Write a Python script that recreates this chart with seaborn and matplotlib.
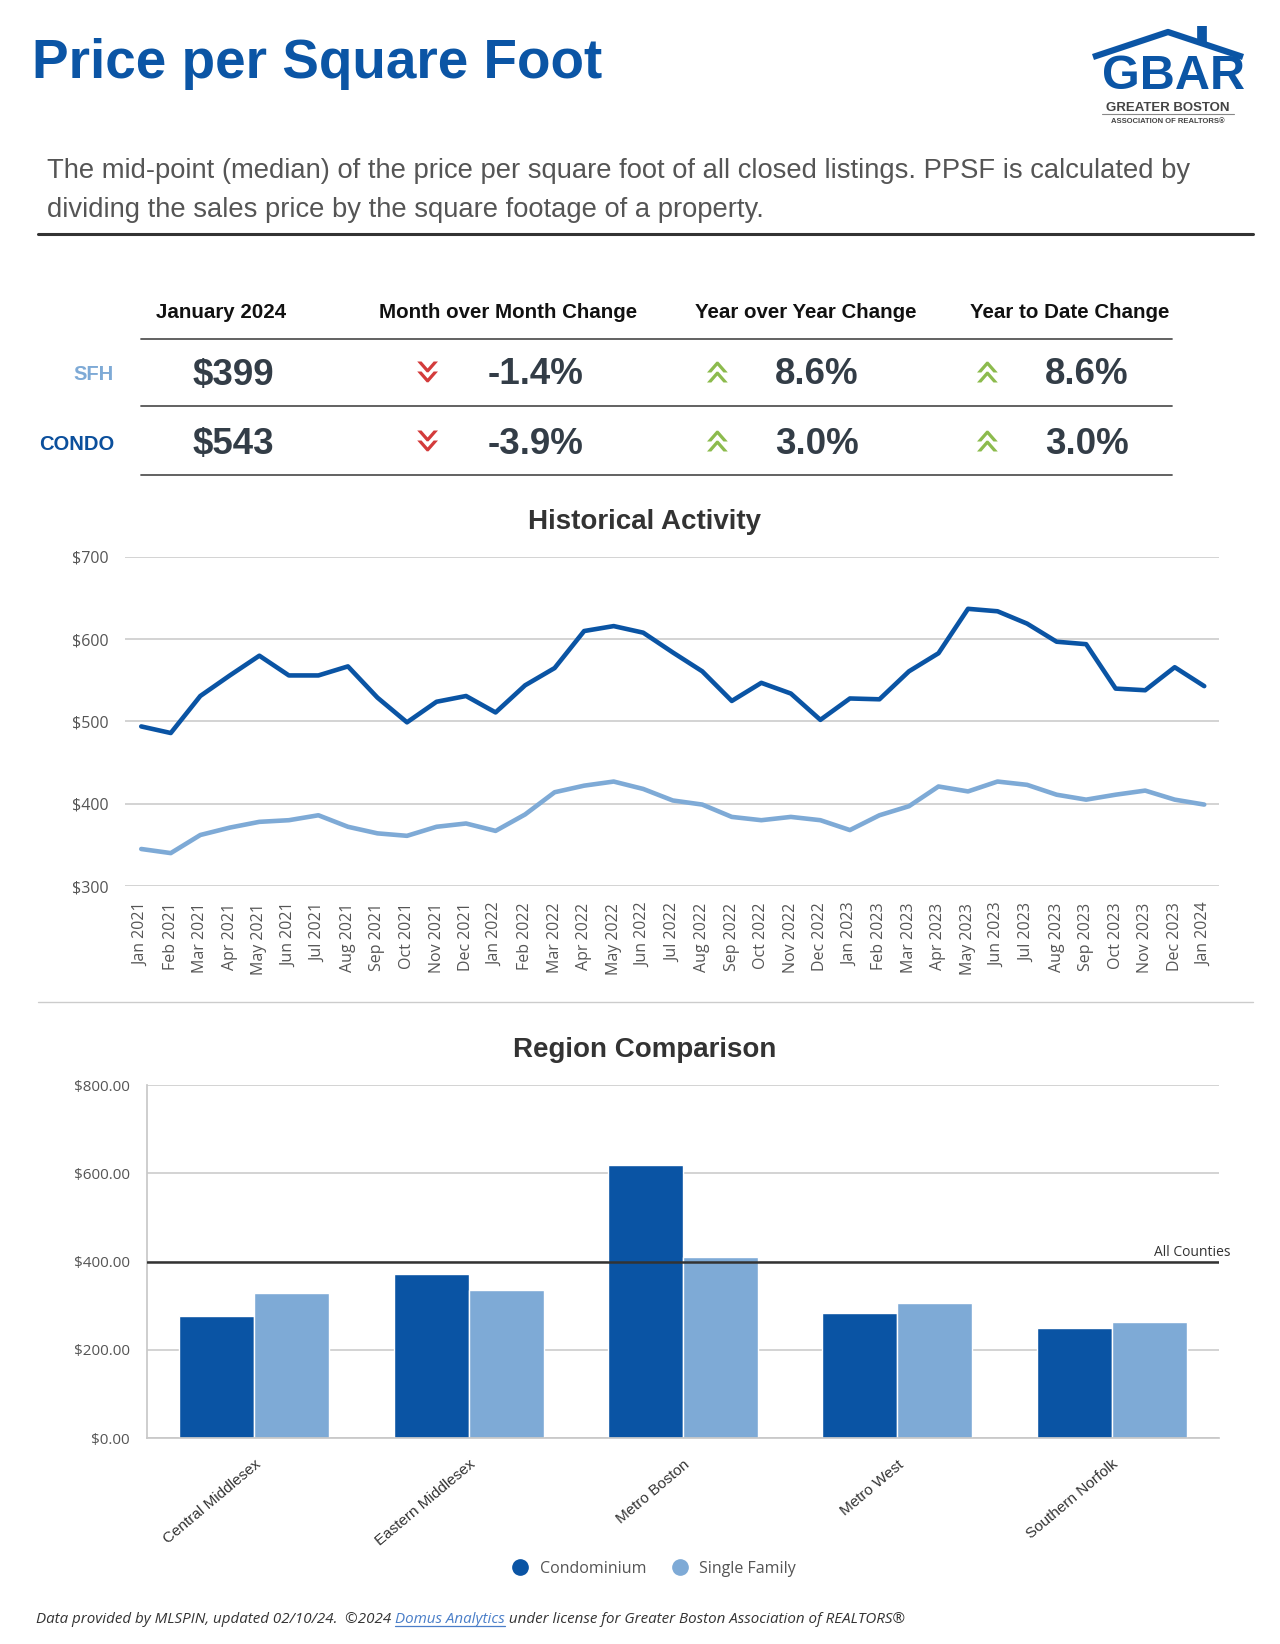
import pandas as pd
import matplotlib.pyplot as plt
import seaborn as sns
from matplotlib.lines import Line2D
from matplotlib.transforms import blended_transform_factory

# ---- data ----
months = ['Jan 2021', 'Feb 2021', 'Mar 2021', 'Apr 2021', 'May 2021', 'Jun 2021',
          'Jul 2021', 'Aug 2021', 'Sep 2021', 'Oct 2021', 'Nov 2021', 'Dec 2021',
          'Jan 2022', 'Feb 2022', 'Mar 2022', 'Apr 2022', 'May 2022', 'Jun 2022',
          'Jul 2022', 'Aug 2022', 'Sep 2022', 'Oct 2022', 'Nov 2022', 'Dec 2022',
          'Jan 2023', 'Feb 2023', 'Mar 2023', 'Apr 2023', 'May 2023', 'Jun 2023',
          'Jul 2023', 'Aug 2023', 'Sep 2023', 'Oct 2023', 'Nov 2023', 'Dec 2023',
          'Jan 2024']
condo_ppsf = [494, 486, 531, 556, 580, 556, 556, 567, 529, 499, 524, 531,
              511, 544, 565, 610, 616, 608, 584, 561, 525, 547, 534, 502,
              528, 527, 561, 583, 637, 634, 619, 597, 594, 540, 538, 566,
              543]
sfh_ppsf = [345, 340, 362, 371, 378, 380, 386, 372, 364, 361, 372, 376,
            367, 387, 414, 422, 427, 418, 404, 399, 384, 380, 384, 380,
            368, 386, 397, 421, 415, 427, 423, 411, 405, 411, 416, 405,
            399]

regions = ['Central Middlesex', 'Eastern Middlesex', 'Metro Boston', 'Metro West', 'Southern Norfolk']
region_condo = [277, 372, 619, 283, 249]
region_sfh = [328, 335, 410, 305, 263]
all_counties = 400

table_cols = ['January 2024', 'Month over Month Change', 'Year over Year Change', 'Year to Date Change']
table_rows = ['SFH', 'CONDO']
table_price = ['$399', '$543']
table_mom = ['-1.4%', '-3.9%']
table_yoy = ['8.6%', '3.0%']
table_ytd = ['8.6%', '3.0%']

CONDO = '#0a54a4'
SFH = '#7eaad6'
TITLE_BLUE = '#0b55a5'

sns.set_theme(style='white')
plt.rcParams['font.family'] = ['Liberation Sans', 'DejaVu Sans']

fig = plt.figure(figsize=(12.8, 16.44), dpi=100)

# overlay in pixel coords for the header/table/footer
ov = fig.add_axes([0, 0, 1, 1])
ov.set_xlim(0, 1280)
ov.set_ylim(1644, 0)
ov.axis('off')
ov.patch.set_alpha(0)

ov.text(32, 64, 'Price per Square Foot', fontsize=39.5, fontweight='bold', color=TITLE_BLUE, va='center')
ov.text(47, 171, 'The mid-point (median) of the price per square foot of all closed listings. PPSF is calculated by',
        fontsize=19.7, color='#555555', va='center')
ov.text(47, 210, 'dividing the sales price by the square footage of a property.',
        fontsize=19.7, color='#555555', va='center')
ov.plot([38, 1253], [234, 234], color='#333333', lw=2.2)

# logo (rough)
ov.plot([1093, 1168, 1243], [57, 32, 57], color=TITLE_BLUE, lw=4.5, solid_capstyle='butt')
ov.plot([1202, 1202], [26, 44], color=TITLE_BLUE, lw=7, solid_capstyle='butt')
ov.text(1173, 89, 'GBAR', fontsize=35, fontweight='bold', color=TITLE_BLUE, ha='center', va='baseline')
ov.text(1168, 111, 'GREATER BOSTON', fontsize=9.5, fontweight='bold', color='#444444', ha='center', va='baseline')
ov.plot([1102, 1234], [114, 114], color='#888888', lw=0.8)
ov.text(1168, 123, 'ASSOCIATION OF REALTORS®', fontsize=5.5, fontweight='bold', color='#444444',
        ha='center', va='baseline')

# summary table
col_x = [221, 508, 806, 1070]
for x, lab in zip(col_x, table_cols):
    ov.text(x, 313, lab, fontsize=14.8, fontweight='bold', color='#111111', ha='center', va='center')
for y in [339, 406, 475]:
    ov.plot([141, 1172], [y, y], color='#555555', lw=1.3)
row_y = [375, 444]
row_colors = [SFH, '#0b4f9c']
arrow_kw = dict(fontsize=34, ha='center', va='center', family='DejaVu Sans')
for i, y in enumerate(row_y):
    ov.text(114, y, table_rows[i], fontsize=14.5, fontweight='bold', color=row_colors[i], ha='right', va='center')
    ov.text(233, y, table_price[i], fontsize=26.5, fontweight='bold', color='#333d47', ha='center', va='center')
    ov.text(422, y - 1, '»', color='#d33a3a', rotation=-90, **arrow_kw)
    ov.text(714, y - 7, '»', color='#8cbb4c', rotation=90, **arrow_kw)
    ov.text(984, y - 7, '»', color='#8cbb4c', rotation=90, **arrow_kw)
    ov.text(536, y, table_mom[i], fontsize=26.5, fontweight='bold', color='#333d47', ha='center', va='center')
    ov.text(817, y, table_yoy[i], fontsize=26.5, fontweight='bold', color='#333d47', ha='center', va='center')
    ov.text(1087, y, table_ytd[i], fontsize=26.5, fontweight='bold', color='#333d47', ha='center', va='center')

ov.text(645, 522, 'Historical Activity', fontsize=20, fontweight='bold', color='#333333', ha='center', va='center')
ov.plot([38, 1253], [1002, 1002], color='#cccccc', lw=1)
ov.text(645, 1050, 'Region Comparison', fontsize=20, fontweight='bold', color='#333333', ha='center', va='center')

# ---- historical line chart ----
ax1 = fig.add_axes([125 / 1280, 1 - 886 / 1644, (1219 - 125) / 1280, (886 - 557) / 1644])
hist = pd.DataFrame({'Month': months * 2,
                     'PPSF': condo_ppsf + sfh_ppsf,
                     'Type': ['Condo'] * len(months) + ['SFH'] * len(months)})
sns.lineplot(data=hist, x='Month', y='PPSF', hue='Type', palette={'Condo': CONDO, 'SFH': SFH},
             linewidth=3.3, sort=False, legend=False, ax=ax1)
ax1.set_ylim(300, 700)
ax1.set_xlim(-0.55, len(months) - 0.5)
ax1.set_yticks([300, 400, 500, 600, 700])
ax1.set_yticklabels(['$300', '$400', '$500', '$600', '$700'])
ax1.set_xlabel('')
ax1.set_ylabel('')
ax1.yaxis.grid(True, color='#c8c8c8', lw=1.1)
ax1.set_axisbelow(True)
for s in ax1.spines.values():
    s.set_visible(False)
ax1.tick_params(axis='y', length=0, pad=11.5, labelsize=11.5, labelcolor='#555555')
ax1.tick_params(axis='x', length=0, pad=12, labelsize=11.5, labelcolor='#555555', rotation=90)
for t in ax1.get_xticklabels() + ax1.get_yticklabels():
    t.set_family(['Open Sans', 'DejaVu Sans'])

# ---- region bar chart ----
ax2 = fig.add_axes([147 / 1280, 1 - 1438 / 1644, (1219 - 147) / 1280, (1438 - 1085) / 1644])
reg = pd.DataFrame({'Region': regions * 2,
                    'PPSF': region_condo + region_sfh,
                    'Type': ['Condominium'] * len(regions) + ['Single Family'] * len(regions)})
sns.barplot(data=reg, x='Region', y='PPSF', hue='Type',
            palette={'Condominium': CONDO, 'Single Family': SFH},
            width=0.7, edgecolor='white', linewidth=1, saturation=1, legend=False, ax=ax2)
ax2.set_ylim(0, 800)
ax2.set_yticks([0, 200, 400, 600, 800])
ax2.set_yticklabels(['$0.00', '$200.00', '$400.00', '$600.00', '$800.00'])
ax2.set_xlabel('')
ax2.set_ylabel('')
ax2.yaxis.grid(True, color='#c8c8c8', lw=1.1)
ax2.set_axisbelow(True)
for k, s in ax2.spines.items():
    s.set_visible(k in ('left', 'bottom'))
    s.set_color('#c8c8c8')
ax2.axhline(all_counties, color='#333333', lw=1.8, zorder=5)
tr = blended_transform_factory(ax2.transAxes, ax2.transData)
ax2.text(1.011, all_counties + 4, 'All Counties', transform=tr, ha='right', va='bottom',
         fontsize=10, color='#333333', family=['Open Sans', 'DejaVu Sans'])
ax2.tick_params(axis='y', length=0, pad=12.5, labelsize=11, labelcolor='#555555')
ax2.tick_params(axis='x', length=0, pad=14, labelsize=11, labelcolor='#333333')
plt.setp(ax2.get_xticklabels(), rotation=40, ha='right', rotation_mode='anchor')
for t in ax2.get_yticklabels():
    t.set_family(['Open Sans', 'DejaVu Sans'])

handles = [Line2D([], [], marker='o', ls='', markersize=11, color=CONDO),
           Line2D([], [], marker='o', ls='', markersize=11, color=SFH)]
fig.legend(handles, ['Condominium', 'Single Family'], loc='center', ncol=2,
           bbox_to_anchor=(650 / 1280, 1 - 1569 / 1644), frameon=False, handletextpad=0.2,
           columnspacing=1.1, prop={'family': ['Open Sans', 'DejaVu Sans'], 'size': 11.5},
           labelcolor='#555555')

# ---- footer ----
foot_kw = dict(fontsize=10.9, style='italic', va='center', family=['Open Sans', 'DejaVu Sans'])
t1 = ov.text(36, 1619, 'Data provided by MLSPIN, updated 02/10/24.  ©2024 ', color='#333333', **foot_kw)
t2 = ov.annotate('Domus Analytics', xy=(1, 0.5), xycoords=t1, color='#4a7ec8', ha='left', **foot_kw)
t3 = ov.annotate(' under license for Greater Boston Association of REALTORS®', xy=(1, 0.5), xycoords=t2,
                 color='#333333', ha='left', **foot_kw)
fig.canvas.draw()
bb = t2.get_window_extent().transformed(ov.transData.inverted())
ov.plot([bb.x0, bb.x1], [bb.y0 - 1, bb.y0 - 1], color='#4a7ec8', lw=0.9)

fig.savefig('out.png', dpi=100, facecolor='white')
